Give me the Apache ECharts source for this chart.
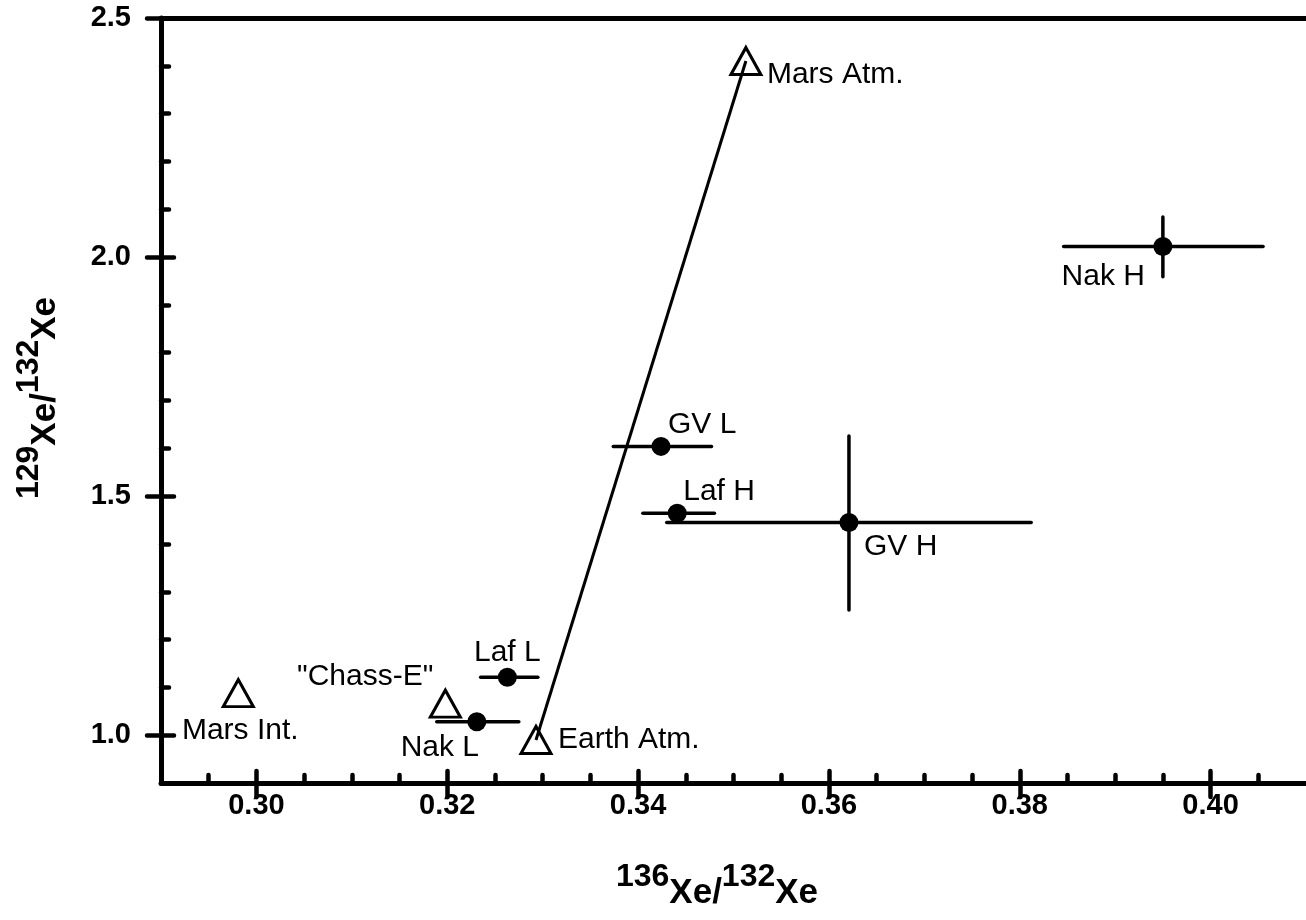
<!DOCTYPE html>
<html>
<head>
<meta charset="utf-8">
<script src="https://cdn.jsdelivr.net/npm/echarts@6/dist/echarts.min.js"></script>
<style>
html, body { margin: 0; padding: 0; background: #fff; }
#chart { width: 1306px; height: 920px; }
</style>
</head>
<body>
<div id="chart"></div>
<script>
// meteorite samples: filled dots with error bars
const sampleNames = ['Nak L', 'Laf L', 'GV L', 'Laf H', 'GV H', 'Nak H'];
const sampleX = [0.3231, 0.3263, 0.3424, 0.3441, 0.3621, 0.3950];
const sampleY = [1.028, 1.121, 1.604, 1.464, 1.445, 2.022];
const sampleXLow = [0.3189, 0.3235, 0.3374, 0.3405, 0.3430, 0.3846];
const sampleXHigh = [0.3275, 0.3295, 0.3477, 0.3480, 0.3812, 0.4055];
const sampleYLow = [null, null, null, null, 1.262, 1.959];
const sampleYHigh = [null, null, null, null, 1.626, 2.084];

// reservoirs: open triangles
const refNames = ['Mars Int.', '"Chass-E"', 'Earth Atm.', 'Mars Atm.'];
const refX = [0.2981, 0.3198, 0.3293, 0.3513];
const refY = [1.088, 1.066, 0.990, 2.410];

const xTicks = [0.30, 0.32, 0.34, 0.36, 0.38, 0.40];
const yTicks = [1.0, 1.5, 2.0, 2.5];

const FONT = "'Liberation Sans', Arial, Helvetica, sans-serif";

// where each point's text sits relative to its marker
const labelPlacement = {
  'Nak L': { align: 'center', dx: -37, dy: 26 },
  'Laf L': { align: 'center', dx: 0, dy: -25 },
  'GV L': { align: 'left', dx: 7, dy: -22 },
  'Laf H': { align: 'left', dx: 6, dy: -22 },
  'GV H': { align: 'left', dx: 15, dy: 24 },
  'Nak H': { align: 'right', dx: -18, dy: 30 },
  'Mars Int.': { align: 'center', dx: 2, dy: 38 },
  '"Chass-E"': { align: 'right', dx: -12, dy: -27 },
  'Earth Atm.': { align: 'left', dx: 22, dy: 0 },
  'Mars Atm.': { align: 'left', dx: 21, dy: 14 }
};

function pointLabel(name) {
  const p = labelPlacement[name];
  return {
    show: true,
    position: 'inside',
    align: p.align,
    verticalAlign: 'middle',
    offset: [p.dx, p.dy],
    formatter: '{b}',
    color: '#000',
    opacity: 1,
    fontSize: 30,
    fontFamily: FONT
  };
}

const tickLine = { color: '#000', width: 4.5, cap: 'round' };
const axisLineStyle = { color: '#000', width: 5, cap: 'round' };

const chart = echarts.init(document.getElementById('chart'));

const titleRich = {
  s: { fontSize: 32, fontWeight: 'bold', fontFamily: FONT, fill: '#000', color: '#000', verticalAlign: 'top' },
  m: { fontSize: 35, fontWeight: 'bold', fontFamily: FONT, fill: '#000', color: '#000', verticalAlign: 'bottom', padding: [14, 0, 0, 0] }
};

const option = {
  animation: false,
  backgroundColor: '#fff',
  grid: { left: 161, top: 18, width: 1153, height: 765 },
  xAxis: [
    {
      type: 'value', min: 0.29, max: 0.41, splitNumber: 6, position: 'bottom',
      axisLine: { show: true, lineStyle: axisLineStyle },
      axisTick: { show: true, inside: true, length: 12, customValues: xTicks, lineStyle: tickLine },
      minorTick: { show: true, splitNumber: 4, length: 8, lineStyle: tickLine },
      axisLabel: {
        customValues: xTicks, margin: 8,
        formatter: v => v.toFixed(2),
        fontSize: 29, fontWeight: 'bold', color: '#000', fontFamily: FONT
      },
      splitLine: { show: false }
    },
    {
      type: 'value', min: 0.29, max: 0.41, splitNumber: 6, position: 'bottom',
      axisLine: { show: false },
      axisTick: { show: true, inside: false, length: 14, customValues: xTicks, lineStyle: tickLine },
      axisLabel: { show: false },
      splitLine: { show: false }
    },
    {
      type: 'value', min: 0.29, max: 0.41, position: 'top',
      axisLine: { show: true, lineStyle: axisLineStyle },
      axisTick: { show: false },
      axisLabel: { show: false },
      splitLine: { show: false }
    }
  ],
  yAxis: [
    {
      type: 'value', min: 0.9, max: 2.5, splitNumber: 3, position: 'left',
      axisLine: { show: true, lineStyle: axisLineStyle },
      axisTick: { show: true, inside: true, length: 13, customValues: yTicks, lineStyle: tickLine },
      minorTick: { show: true, splitNumber: 5, length: 8, lineStyle: tickLine },
      axisLabel: {
        customValues: yTicks, margin: 30,
        formatter: v => v.toFixed(1),
        fontSize: 29, fontWeight: 'bold', color: '#000', fontFamily: FONT
      },
      splitLine: { show: false }
    },
    {
      type: 'value', min: 0.9, max: 2.5, splitNumber: 3, position: 'left',
      axisLine: { show: false },
      axisTick: { show: true, inside: false, length: 14, customValues: yTicks, lineStyle: tickLine },
      axisLabel: { show: false },
      splitLine: { show: false }
    }
  ],
  graphic: [
    {
      type: 'text', x: 717, y: 886,
      style: {
        text: '{s|136}{m|Xe/}{s|132}{m|Xe}', rich: titleRich,
        align: 'center', verticalAlign: 'middle', textAlign: 'center', textVerticalAlign: 'middle'
      }
    },
    {
      type: 'text', x: 38, y: 398, rotation: Math.PI / 2,
      style: {
        text: '{s|129}{m|Xe/}{s|132}{m|Xe}', rich: titleRich,
        align: 'center', verticalAlign: 'middle', textAlign: 'center', textVerticalAlign: 'middle'
      }
    }
  ],
  series: [
    {
      // mixing line Earth atmosphere -> Mars atmosphere
      type: 'line',
      data: [[refX[2], refY[2]], [refX[3], refY[3]]],
      symbol: 'none',
      lineStyle: { color: '#000', width: 3 },
      z: 2
    },
    {
      type: 'custom',
      data: sampleX.map((x, i) => [x, sampleY[i]]),
      encode: { x: 0, y: 1 },
      renderItem: function (params, api) {
        const i = params.dataIndex;
        const style = { stroke: '#000', lineWidth: 3.5, lineCap: 'round' };
        const a = api.coord([sampleXLow[i], sampleY[i]]);
        const b = api.coord([sampleXHigh[i], sampleY[i]]);
        const children = [{ type: 'line', shape: { x1: a[0], y1: a[1], x2: b[0], y2: b[1] }, style: style }];
        if (sampleYLow[i] != null) {
          const lo = api.coord([sampleX[i], sampleYLow[i]]);
          const hi = api.coord([sampleX[i], sampleYHigh[i]]);
          children.push({ type: 'line', shape: { x1: lo[0], y1: lo[1], x2: hi[0], y2: hi[1] }, style: style });
        }
        return { type: 'group', children: children };
      },
      z: 3
    },
    {
      type: 'scatter',
      symbol: 'circle',
      symbolSize: 19,
      itemStyle: { color: '#000', opacity: 1 },
      data: sampleNames.map((n, i) => ({ name: n, value: [sampleX[i], sampleY[i]], label: pointLabel(n) })),
      z: 4
    },
    {
      type: 'scatter',
      symbol: 'triangle',
      symbolSize: [30, 27],
      itemStyle: { color: 'rgba(0,0,0,0)', borderColor: '#000', borderWidth: 3, opacity: 1 },
      data: refNames.map((n, i) => ({ name: n, value: [refX[i], refY[i]], label: pointLabel(n) })),
      z: 5
    }
  ]
};

chart.setOption(option);
</script>
</body>
</html>
